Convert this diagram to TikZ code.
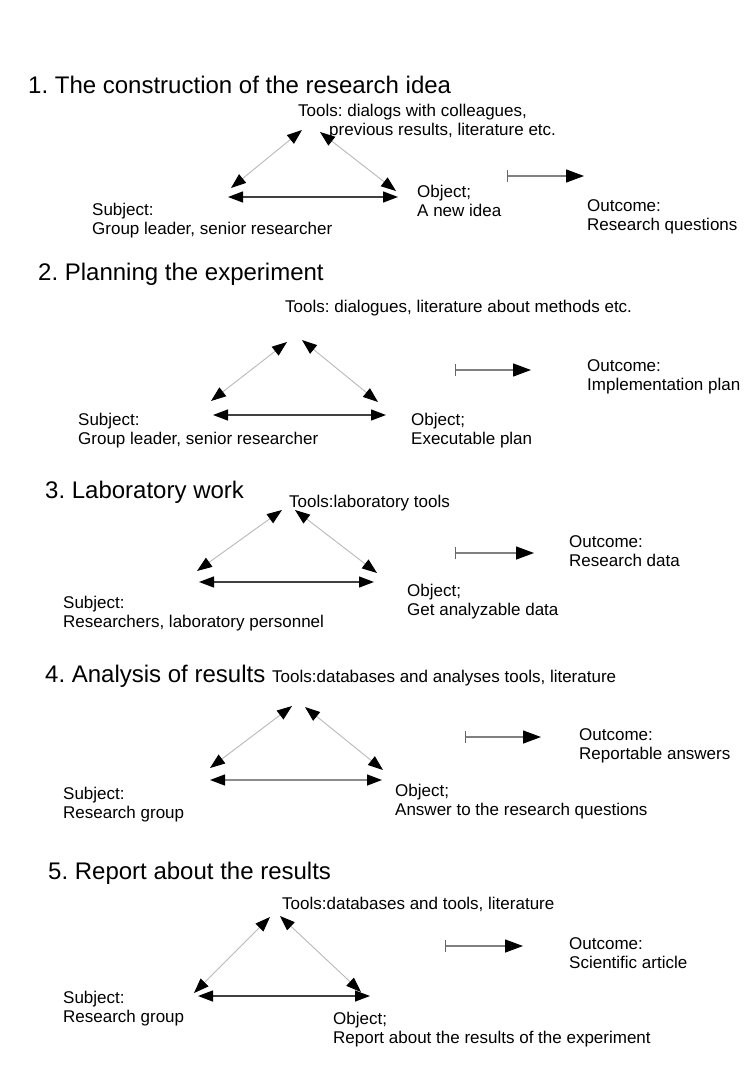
\documentclass[tikz,border=0pt]{standalone}
\usepackage{fontspec}
\setmainfont{Liberation Sans}
\usetikzlibrary{arrows.meta}
\frenchspacing

\begin{document}
\begin{tikzpicture}[x=1pt, y=-1pt,
    >={Triangle[length=15pt,width=11pt,color=black]},
    every node/.style={inner sep=0pt, anchor=north west, align=left, font=\fontsize{17}{19}\selectfont},
    heading/.style={font=\fontsize{24}{28}\selectfont},
    side/.style={draw=black!28, line width=0.9pt, <->},
    base/.style={draw=black!75, line width=1.3pt, <->},
    outarrow/.style={draw=black!50, line width=1.3pt, {Bar[width=12pt,color=black!60]}-{Triangle[length=18pt,width=13pt,color=black]}}]
    \useasboundingbox (0,0) rectangle (748,1078);

    % 1. construction of the idea
    \node[heading] (title1) at (28,76) {1. The construction of the research idea};
    \node (tools1) at (298,104) {Tools: dialogs with colleagues,\\\hspace*{31pt}previous results, literature etc.};
    \node (subj1) at (92,203) {Subject:\\Group leader, senior researcher};
    \node (obj1) at (417,185) {Object;\\A new idea};
    \node (out1) at (587,199) {Outcome:\\Research questions};
    \coordinate (tl1) at (302,130); \coordinate (tr1) at (320,132);
    \coordinate (sl1) at (231,188); \coordinate (or1) at (396,191);
    \coordinate (hs1) at (228,197); \coordinate (ho1) at (398,197);
    \coordinate (os1) at (507,176); \coordinate (oe1) at (584,176);
    \draw[side] (sl1) -- (tl1);
    \draw[side] (tr1) -- (or1);
    \draw[base] (hs1) -- (ho1);
    \draw[outarrow] (os1) -- (oe1);

    % 2. planning
    \node[heading] (title2) at (38,263) {2. Planning the experiment};
    \node (tools2) at (285,300) {Tools: dialogues, literature about methods etc.};
    \node (subj2) at (78,413) {Subject:\\Group leader, senior researcher};
    \node (obj2) at (411,413) {Object;\\Executable plan};
    \node (out2) at (587,359) {Outcome:\\Implementation plan};
    \coordinate (tl2) at (287,342); \coordinate (tr2) at (302,340);
    \coordinate (sl2) at (211,401); \coordinate (or2) at (378,402);
    \coordinate (hs2) at (213,415); \coordinate (ho2) at (386,415);
    \coordinate (os2) at (455,370); \coordinate (oe2) at (531,370);
    \draw[side] (sl2) -- (tl2);
    \draw[side] (tr2) -- (or2);
    \draw[base] (hs2) -- (ho2);
    \draw[outarrow] (os2) -- (oe2);

    % 3. lab work
    \node[heading] (title3) at (45,481) {3. Laboratory work};
    \node (tools3) at (289,495) {Tools:laboratory tools};
    \node (subj3) at (63,596) {Subject:\\Researchers, laboratory personnel};
    \node (obj3) at (407,584) {Object;\\Get analyzable data};
    \node (out3) at (569,535) {Outcome:\\Research data};
    \coordinate (tl3) at (282,510); \coordinate (tr3) at (295,510);
    \coordinate (sl3) at (197,571); \coordinate (or3) at (377,573);
    \coordinate (hs3) at (199,582); \coordinate (ho3) at (374,582);
    \coordinate (os3) at (455,553); \coordinate (oe3) at (534,553);
    \draw[side] (sl3) -- (tl3);
    \draw[side] (tr3) -- (or3);
    \draw[base] (hs3) -- (ho3);
    \draw[outarrow] (os3) -- (oe3);

    % 4. analysis
    \node[heading] (title4) at (45,665) {4. Analysis of results};
    \node (tools4) at (272,670) {Tools:databases and analyses tools, literature};
    \node (subj4) at (63,787) {Subject:\\Research group};
    \node (obj4) at (395,784) {Object;\\Answer to the research questions};
    \node (out4) at (579,728) {Outcome:\\Reportable answers};
    \coordinate (tl4) at (292,706); \coordinate (tr4) at (305,707);
    \coordinate (sl4) at (210,768); \coordinate (or4) at (383,770);
    \coordinate (hs4) at (210,780); \coordinate (ho4) at (382,780);
    \coordinate (os4) at (465,737); \coordinate (oe4) at (541,737);
    \draw[side] (sl4) -- (tl4);
    \draw[side] (tr4) -- (or4);
    \draw[base, draw=black!45] (hs4) -- (ho4);
    \draw[outarrow] (os4) -- (oe4);

    % 5. report
    \node[heading] (title5) at (48,862) {5. Report about the results};
    \node (tools5) at (282,897) {Tools:databases and tools, literature};
    \node (subj5) at (63,991) {Subject:\\Research group};
    \node (obj5) at (333,1012) {Object;\\Report about the results of the experiment};
    \node (out5) at (569,937) {Outcome:\\Scientific article};
    \coordinate (tl5) at (270,917); \coordinate (tr5) at (280,916);
    \coordinate (sl5) at (194,993); \coordinate (or5) at (361,992);
    \coordinate (hs5) at (198,996); \coordinate (ho5) at (370,996);
    \coordinate (os5) at (445,946); \coordinate (oe5) at (523,946);
    \draw[side] (sl5) -- (tl5);
    \draw[side] (tr5) -- (or5);
    \draw[base] (hs5) -- (ho5);
    \draw[outarrow] (os5) -- (oe5);
\end{tikzpicture}
\end{document}
